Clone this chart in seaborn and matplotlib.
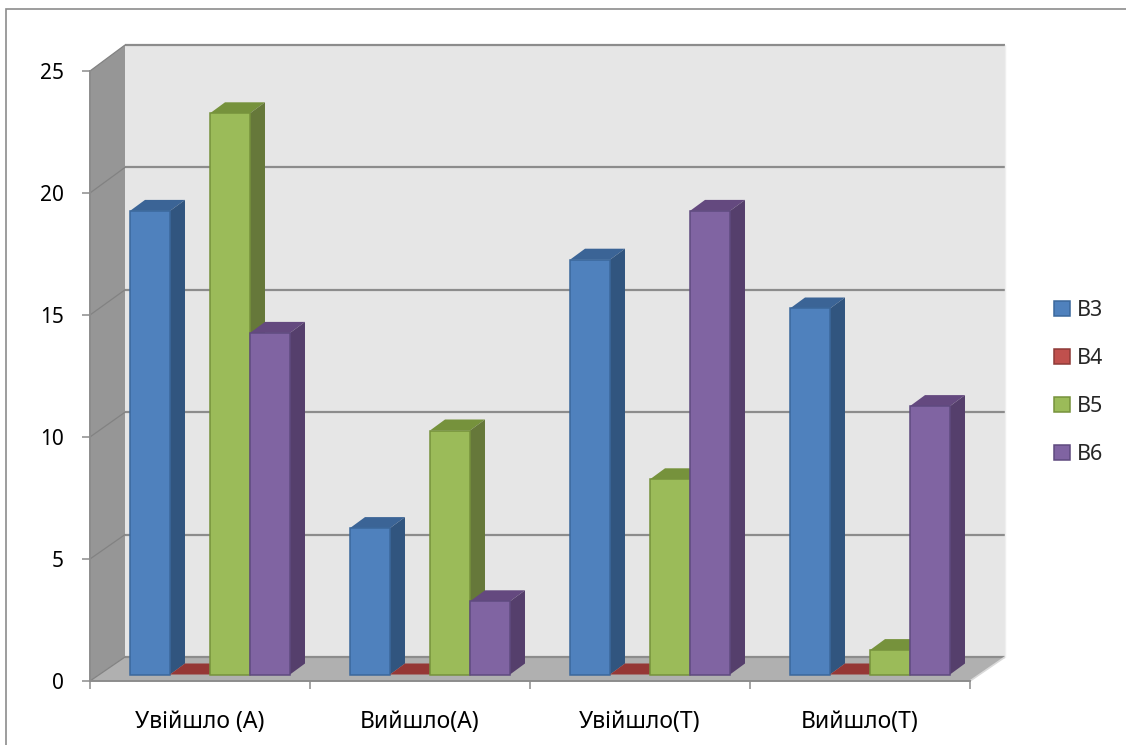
import matplotlib
matplotlib.use("Agg")
import matplotlib.pyplot as plt
from matplotlib.patches import Patch, Polygon, Rectangle
import pandas as pd
import seaborn as sns

categories = ["Увійшло (А)", "Вийшло(А)", "Увійшло(Т)", "Вийшло(Т)"]
series_names = ["B3", "B4", "B5", "B6"]
b3_values = [19, 6, 17, 15]
b4_values = [0, 0, 0, 0]
b5_values = [23, 10, 8, 1]
b6_values = [14, 3, 19, 11]
y_ticks = [0, 5, 10, 15, 20, 25]

front_colors = ["#4f81bd", "#c0504d", "#9bbb59", "#8064a2"]
edge_colors = ["#3b689c", "#8e3a38", "#76923c", "#5f4a7f"]
side_colors = ["#31557f", "#7f3432", "#66783a", "#553f6c"]
top_colors = ["#3b6496", "#953735", "#76923c", "#64497f"]
grid_color = "#8c8c8c"

sns.set_theme(style="white")
plt.rcParams["font.family"] = ["Noto Sans", "DejaVu Sans"]

W, H = 1126, 745
fig = plt.figure(figsize=(W / 100, H / 100), dpi=100, facecolor="white")
ax = fig.add_axes([90 / W, (H - 681) / H, 880 / W, 610 / H])
ax.patch.set_visible(False)

df = pd.DataFrame({
    "category": categories * 4,
    "series": [s for s in series_names for _ in categories],
    "value": b3_values + b4_values + b5_values + b6_values,
})
sns.barplot(data=df, x="category", y="value", hue="series", order=categories,
            hue_order=series_names, palette=front_colors, saturation=1,
            width=160 / 220, gap=0, dodge=True, errorbar=None, ax=ax, legend=False)

ax.set_xlim(-0.5, 3.5)
ax.set_ylim(0, 25)
ax.set_xlabel("")
ax.set_ylabel("")

# pixel lengths expressed in data units
PX = 4 / 880
PY = 25 / 610
wall_dx, wall_dy = 35 * PX, 24 * PY
plane_dx, plane_dy = 10 * PX, 6.5 * PY
bar_dx, bar_dy = 15 * PX, 11 * PY
x0, x1 = -0.5, 3.5
back_scale = 612 / 610  # the back wall reads slightly taller than the front plane


def back_y(v):
    return v * back_scale + wall_dy


def face(xs, ys, color, z, edge="none", lw=0.0):
    ax.add_patch(Polygon(list(zip(xs, ys)), closed=True, facecolor=color,
                         edgecolor=edge, linewidth=lw, clip_on=False, zorder=z))


# walls and floor of the box
face([x0, x0 + wall_dx, x0 + wall_dx, x0], [0, back_y(0), back_y(25), 25], "#969696", 0.1)
face([x0 + wall_dx, x1 + wall_dx, x1 + wall_dx, x0 + wall_dx],
     [back_y(0), back_y(0), back_y(25), back_y(25)], "#e6e6e6", 0.1)
face([x0, x1, x1 + wall_dx, x0 + wall_dx], [0, 0, wall_dy, wall_dy], "#b0b0b0", 0.2)

for v in y_ticks:
    ax.plot([x0 + wall_dx, x1 + wall_dx], [back_y(v), back_y(v)], color=grid_color,
            lw=1.6, clip_on=False, zorder=0.3, solid_capstyle="butt")
    ax.plot([x0, x0 + wall_dx], [v, back_y(v)], color="#828282", lw=0.9,
            clip_on=False, zorder=0.3)
ax.plot([x1, x1 + wall_dx], [0, wall_dy], color="#d9d9d9", lw=1.2, clip_on=False, zorder=0.3)
ax.plot([x1 + wall_dx, x1 + wall_dx], [wall_dy, back_y(25)], color="#efefef", lw=1.0,
        clip_on=False, zorder=0.3)

# extrude every bar: series further right are drawn over the ones before
for i, container in enumerate(ax.containers):
    for bar in container:
        bar.set_x(bar.get_x() + plane_dx)
        base = plane_dy
        h = bar.get_height()
        bar.set_y(base)
        left = bar.get_x()
        right = left + bar.get_width()
        top = base + h
        z = 2 + i
        face([left, right, right + bar_dx, left + bar_dx],
             [top, top, top + bar_dy, top + bar_dy], top_colors[i], z)
        if h > 0:
            face([right, right + bar_dx, right + bar_dx, right],
                 [base, base + bar_dy, top + bar_dy, top], side_colors[i], z)
            bar.set_edgecolor(edge_colors[i])
            bar.set_linewidth(1.1)
            bar.set_zorder(z + 0.5)
            bar.set_clip_on(False)
        else:
            bar.set_visible(False)

ax.set_yticks(y_ticks)
sns.despine(ax=ax, top=True, right=True)
for side in ("left", "bottom"):
    ax.spines[side].set_color(grid_color)
    ax.spines[side].set_linewidth(1.4)
    ax.spines[side].set_zorder(1)
ax.set_xticks([-0.5, 0.5, 1.5, 2.5, 3.5], labels=[""] * 5)
ax.tick_params(axis="x", length=6, width=1.1, color=grid_color, bottom=True)
ax.tick_params(axis="y", length=6, width=1.1, color=grid_color, left=True,
               labelsize=15, pad=13, labelcolor="black")
ax.set_xticks([0, 1, 2, 3], labels=categories, minor=True)
ax.tick_params(axis="x", which="minor", length=0, labelsize=16.5, pad=21, labelcolor="black")

handles = [Patch(facecolor=f, edgecolor=e, linewidth=1.1, label=s)
           for f, e, s in zip(front_colors, edge_colors, series_names)]
ax.legend(handles=handles, loc="center left", bbox_to_anchor=(1039 / W, (H - 382.5) / H),
          bbox_transform=fig.transFigure, frameon=False, fontsize=15.5, handlelength=0.75,
          handleheight=0.75, handletextpad=0.31, labelspacing=1.257, borderpad=0.2)

# outer chart frame, open towards the right and bottom edges
fig.add_artist(Rectangle((6 / W, (H - 760) / H), 1140 / W, 751 / H, fill=False,
                         edgecolor=grid_color, linewidth=1.2, transform=fig.transFigure))

fig.savefig("out.png", dpi=100, facecolor="white")
